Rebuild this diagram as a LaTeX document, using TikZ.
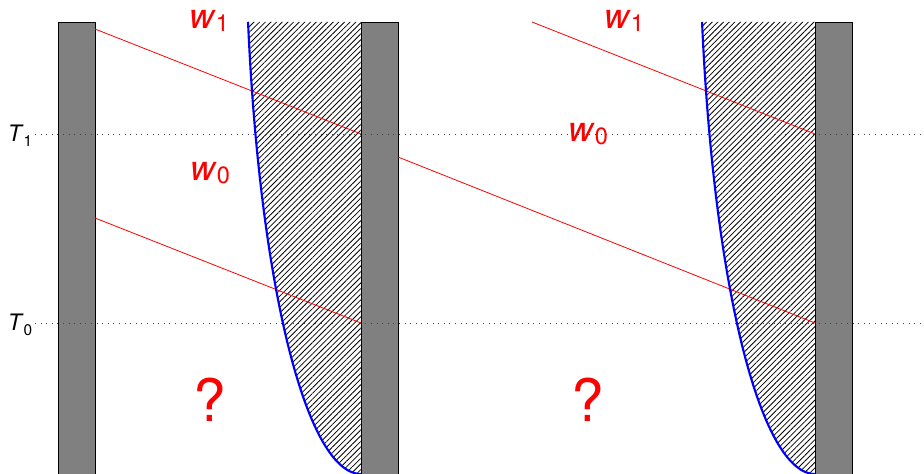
\documentclass[tikz,border=0pt]{standalone}
\usepackage{fontspec}
\setmainfont{TeX Gyre Heros}
\usepackage{graphicx}
\usetikzlibrary{patterns.meta, calc}
\newcommand{\lowsub}[2][0.1em]{\raisebox{-#1}{\scalebox{0.68}{#2}}}

\begin{document}
\begin{tikzpicture}[
    x=0.75pt, y=-0.75pt,
    wall/.style={draw=black, fill=black!50, line width=0.6pt},
    signal/.style={red, line width=0.6pt},
    front/.style={blue, line width=1.6pt},
    hatch/.style={pattern={Lines[angle=45, distance=3pt, line width=0.6pt]}},
    level/.style={black!75, line width=0.7pt, dash pattern=on 0.6pt off 3.6pt},
    wlabel/.style={red, inner sep=0pt, font=\fontsize{26}{30}\selectfont},
    tlabel/.style={inner sep=0pt, font=\fontsize{17}{20}\selectfont},
    qlabel/.style={red, inner sep=0pt, font=\fontsize{44}{50}\selectfont},
]
\useasboundingbox (0,0) rectangle (924,474);
% hatched zone in front of the moving wall, bounded by an elliptic front
\foreach \s in {0,454} {
  \begin{scope}[shift={(\s,0)}]
    \fill[hatch]
      plot[domain=167.73:90, samples=80] ({361+115.6*cos(\x)}, {-100+574*sin(\x)})
      -- (361,22) -- cycle;
  \end{scope}
}
% walls
\foreach \xw in {58,361,815} {
  \draw[wall] (\xw,22) rectangle ++(37,460);
}
% end points of the signals on the wall faces
\coordinate (a1) at (95,29);
\coordinate (b1) at (361,134);
\coordinate (a0) at (95,218);
\coordinate (b0) at (361,323);
\coordinate (c0) at (398,157);
\coordinate (d0) at (815,323);
\coordinate (c1) at (532,22);
\coordinate (d1) at (815,134);
\draw[signal] (a1) -- (b1);
\draw[signal] (a0) -- (b0);
\draw[signal] (c0) -- (d0);
\draw[signal] (c1) -- (d1);
% the fronts
\foreach \s in {0,454} {
  \begin{scope}[shift={(\s,0)}]
    \draw[front] plot[domain=167.73:90, samples=80] ({361+115.6*cos(\x)}, {-100+574*sin(\x)});
  \end{scope}
}
% time levels
\node[tlabel] (t1) at (20,136) {\textit{T}\lowsub[0.2em]{1}};
\node[tlabel] (t0) at (20,325) {\textit{T}\lowsub[0.2em]{0}};
\coordinate (t1e) at (924,134);
\coordinate (t0e) at (924,323);
\draw[level] (35,134) -- (t1e);
\draw[level] (35,323) -- (t0e);
% labels
\node[wlabel] (w1l) at (209,21) {\textit{w}\lowsub{1}};
\node[wlabel] (w0l) at (210,173) {\textit{w}\lowsub{0}};
\node[wlabel] (w1r) at (624,21) {\textit{w}\lowsub{1}};
\node[wlabel] (w0r) at (588,134) {\textit{w}\lowsub{0}};
\node[qlabel] (ql) at (210,400) {?};
\node[qlabel] (qr) at (588,400) {?};
\end{tikzpicture}
\end{document}
